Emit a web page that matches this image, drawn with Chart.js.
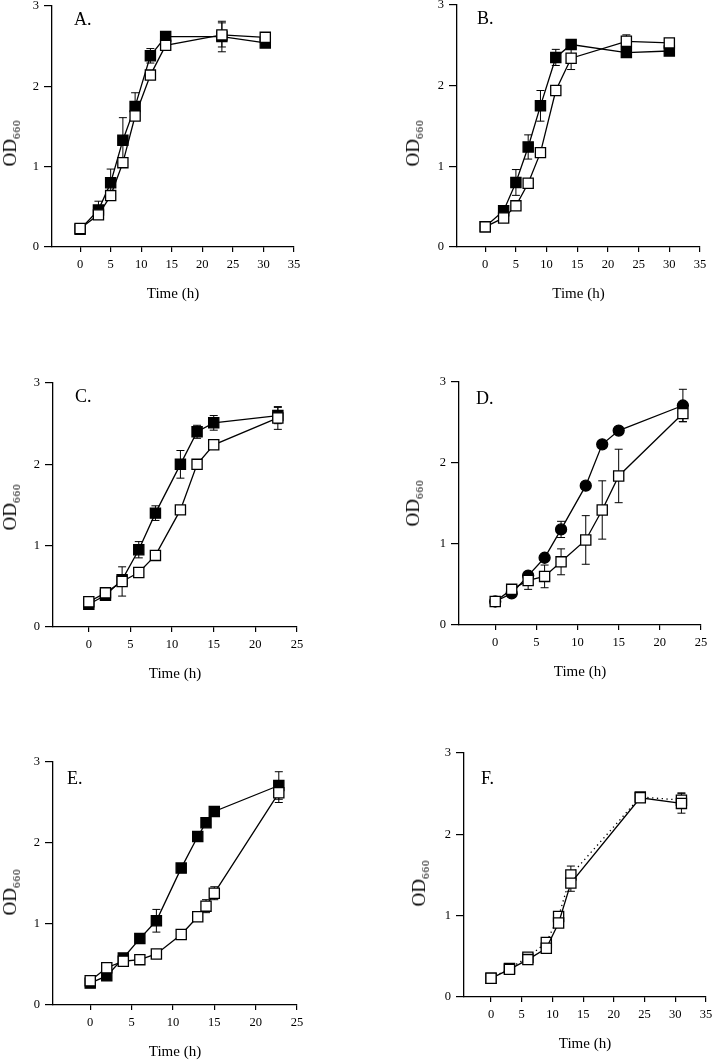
<!DOCTYPE html>
<html>
<head>
<meta charset="utf-8">
<script src="https://cdn.jsdelivr.net/npm/chart.js@4.4.1/dist/chart.umd.min.js"></script>
<style>
body{margin:0;width:714px;height:1061px;background:#fff;position:relative;overflow:hidden;font-family:'Liberation Serif','Times New Roman',serif;color:#000}
canvas{position:absolute}
.lab{position:absolute;font-size:18px;line-height:1}
.od{position:absolute;font-size:19px;line-height:1;white-space:nowrap;transform:translate(-50%,-50%) rotate(-90deg)}
.od sub{font-size:11px;letter-spacing:1px;vertical-align:-4px}
</style>
</head>
<body>
<script>
const yTicks = [0, 1, 2, 3];
const xTicksLong = [0, 5, 10, 15, 20, 25, 30, 35];
const xTicksShort = [0, 5, 10, 15, 20, 25];

// A.
const timeA = [0, 3, 5, 7, 9, 11.5, 14, 23.2, 30.3];
const filledA = [0.22, 0.46, 0.80, 1.33, 1.75, 2.38, 2.62, 2.62, 2.54];
const filledErrA = [0, 0.11, 0.17, 0.28, 0.17, 0.09, 0, 0.19, 0];
const openA = [0.23, 0.40, 0.64, 1.05, 1.63, 2.14, 2.51, 2.64, 2.61];
const openErrA = [0, 0, 0, 0, 0, 0, 0, 0.15, 0];

// B.
const timeB = [0, 3, 5, 7, 9, 11.5, 14, 23, 30];
const filledB = [0.25, 0.45, 0.80, 1.24, 1.75, 2.35, 2.51, 2.41, 2.43];
const filledErrB = [0, 0, 0.16, 0.15, 0.19, 0.10, 0, 0, 0];
const openB = [0.25, 0.36, 0.51, 0.79, 1.17, 1.94, 2.34, 2.55, 2.53];
const openErrB = [0, 0, 0, 0, 0, 0, 0.14, 0.08, 0];

// C.
const timeC = [0, 2, 4, 6, 8, 11, 13, 15, 22.7];
const filledC = [0.28, 0.39, 0.58, 0.95, 1.40, 2.00, 2.40, 2.51, 2.60];
const filledErrC = [0, 0, 0, 0.10, 0.09, 0.17, 0.08, 0.09, 0.10];
const openC = [0.31, 0.42, 0.56, 0.67, 0.88, 1.44, 2.00, 2.24, 2.57];
const openErrC = [0, 0, 0.18, 0, 0, 0, 0, 0, 0.14];

// D.
const timeD = [0, 2, 4, 6, 8, 11, 13, 15, 22.8];
const circlesD = [0.29, 0.39, 0.61, 0.83, 1.18, 1.72, 2.23, 2.40, 2.71];
const circlesErrD = [0, 0, 0, 0, 0.10, 0, 0, 0, 0.20];
const openD = [0.29, 0.44, 0.55, 0.60, 0.78, 1.05, 1.42, 1.84, 2.61];
const openErrD = [0, 0.06, 0.11, 0.14, 0.16, 0.30, 0.36, 0.33, 0.10];

// E.
const timeE = [0, 2, 4, 6, 8, 11, 13, 14, 15, 22.8];
const filledE = [0.27, 0.36, 0.58, 0.82, 1.04, 1.69, 2.08, 2.25, 2.39, 2.71];
const filledErrE = [0, 0, 0, 0, 0.14, 0, 0, 0, 0, 0.17];
const openE = [0.30, 0.46, 0.54, 0.56, 0.63, 0.87, 1.09, 1.22, 1.38, 2.62];
const openErrE = [0, 0, 0, 0, 0, 0, 0, 0.08, 0.08, 0.12];

// F.
const timeF = [0, 3, 6, 9, 11, 13, 24.3, 31];
const solidF = [0.23, 0.34, 0.46, 0.60, 0.91, 1.40, 2.45, 2.38];
const solidErrF = [0, 0, 0, 0, 0, 0.10, 0, 0.12];
const dottedF = [0.23, 0.35, 0.49, 0.67, 0.99, 1.50, 2.46, 2.42];
const dottedErrF = [0, 0, 0, 0, 0, 0.11, 0, 0.09];

const serif = 'Liberation Serif';

// vertical error bars with caps, drawn under the markers
const errorBars = {
    id: 'errorBars',
    beforeDatasetsDraw(chart) {
        const ctx = chart.ctx;
        const sx = chart.scales.x, sy = chart.scales.y;
        ctx.save();
        ctx.strokeStyle = '#000';
        ctx.lineWidth = 1;
        chart.data.datasets.forEach(ds => {
            if (!ds.err) return;
            ds.data.forEach((p, i) => {
                const e = ds.err[i];
                if (!e) return;
                const px = sx.getPixelForValue(p.x);
                const top = sy.getPixelForValue(p.y + e);
                const bot = sy.getPixelForValue(p.y - e);
                ctx.beginPath();
                ctx.moveTo(px, top); ctx.lineTo(px, bot);
                ctx.moveTo(px - 4, top); ctx.lineTo(px + 4, top);
                ctx.moveTo(px - 4, bot); ctx.lineTo(px + 4, bot);
                ctx.stroke();
            });
        });
        ctx.restore();
    }
};

const series = (xs, ys, err, style) => Object.assign({
    data: xs.map((x, i) => ({x: x, y: ys[i]})),
    err: err,
    showLine: true,
    borderColor: '#000',
    borderWidth: 1.3,
    pointBorderColor: '#000',
    pointBorderWidth: 1.3
}, style);

const filledSq = {pointStyle: 'rect', pointRadius: 7.2, pointBackgroundColor: '#000'};
const openSq = {pointStyle: 'rect', pointRadius: 7.2, pointBackgroundColor: '#fff'};
const dots = {pointStyle: 'circle', pointRadius: 5.5, pointBackgroundColor: '#000'};

const panels = [
    {letter: 'A.', box: [52, 294, 6, 247], xMin: -4.6, xMax: 35, ticks: xTicksLong, lab: [74, 10], od: [11, 143],
     sets: [series(timeA, openA, openErrA, openSq), series(timeA, filledA, filledErrA, filledSq)]},
    {letter: 'B.', box: [457, 700, 5, 247], xMin: -4.6, xMax: 35, ticks: xTicksLong, lab: [477, 9], od: [414, 143],
     sets: [series(timeB, openB, openErrB, openSq), series(timeB, filledB, filledErrB, filledSq)]},
    {letter: 'C.', box: [53, 297, 383, 627], xMin: -4.3, xMax: 25, ticks: xTicksShort, lab: [75, 387], od: [11, 507],
     sets: [series(timeC, openC, openErrC, openSq), series(timeC, filledC, filledErrC, filledSq)]},
    {letter: 'D.', box: [459, 701, 382, 625], xMin: -4.4, xMax: 25, ticks: xTicksShort, lab: [476, 389], od: [414, 503],
     sets: [series(timeD, openD, openErrD, openSq), series(timeD, circlesD, circlesErrD, dots)]},
    {letter: 'E.', box: [53, 297, 762, 1005], xMin: -4.5, xMax: 25, ticks: xTicksShort, lab: [67, 769], od: [11, 892],
     sets: [series(timeE, openE, openErrE, openSq), series(timeE, filledE, filledErrE, filledSq)]},
    {letter: 'F.', box: [464, 706, 753, 997], xMin: -4.4, xMax: 35, ticks: xTicksLong, lab: [481, 769], od: [420, 883],
     sets: [series(timeF, solidF, solidErrF, openSq), series(timeF, dottedF, dottedErrF, Object.assign({borderDash: [1.3, 3.5]}, openSq))]}
];

panels.forEach(p => {
    const [l, r, t, b] = p.box;
    const cv = document.createElement('canvas');
    cv.width = r - l + 66;
    cv.height = b - t + 70;
    cv.style.left = (l - 52) + 'px';
    cv.style.top = (t - 14) + 'px';
    document.body.appendChild(cv);

    new Chart(cv, {
        type: 'scatter',
        data: {datasets: p.sets},
        options: {
            responsive: false,
            animation: false,
            events: [],
            layout: {padding: {top: 14, right: 14, left: 0, bottom: 0}},
            plugins: {legend: {display: false}, tooltip: {enabled: false}},
            scales: {
                x: {
                    type: 'linear',
                    min: p.xMin,
                    max: p.xMax,
                    afterBuildTicks: s => { s.ticks = p.ticks.map(v => ({value: v})); },
                    afterFit: s => { s.height = 56; },
                    grid: {drawOnChartArea: false, tickLength: 5, color: '#000', lineWidth: 1.2},
                    border: {color: '#000', width: 1.3},
                    ticks: {color: '#000', font: {family: serif, size: 12.5}, padding: 5, maxRotation: 0, autoSkip: false},
                    title: {display: true, text: 'Time (h)', color: '#000', font: {family: serif, size: 15}, padding: 0}
                },
                y: {
                    min: 0,
                    max: 3,
                    afterBuildTicks: s => { s.ticks = yTicks.map(v => ({value: v})); },
                    afterFit: s => { s.width = 52; },
                    grid: {drawOnChartArea: false, tickLength: 8, color: '#000', lineWidth: 1.2},
                    border: {color: '#000', width: 1.3},
                    ticks: {color: '#000', font: {family: serif, size: 12.5}, padding: 5}
                }
            }
        },
        plugins: [errorBars]
    });

    const lab = document.createElement('div');
    lab.className = 'lab';
    lab.textContent = p.letter;
    lab.style.left = p.lab[0] + 'px';
    lab.style.top = p.lab[1] + 'px';
    document.body.appendChild(lab);

    const od = document.createElement('div');
    od.className = 'od';
    od.innerHTML = 'OD<sub>660</sub>';
    od.style.left = p.od[0] + 'px';
    od.style.top = p.od[1] + 'px';
    document.body.appendChild(od);
});
</script>
</body>
</html>
